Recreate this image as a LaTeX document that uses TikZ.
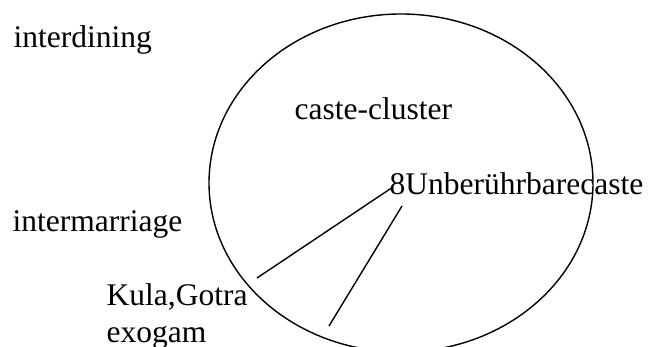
\documentclass[tikz,border=0pt]{standalone}
\usepackage{fontspec}
\setmainfont{Liberation Serif}
\usepackage{amsmath, amssymb, tikz}

\begin{document}
\begin{tikzpicture}
            [x=1pt, y=-1pt, semithick, line width=1.4pt,
             lbl/.style={anchor=base west, inner sep=0pt, font=\fontsize{31.5}{34}\selectfont}]
            \useasboundingbox (0, 0) rectangle (650, 347);
            \clip (0, 0) rectangle (650, 347);
            \draw (401, 183) ellipse [x radius=192, y radius=169];
            \node[lbl] (dining) at (13, 48) {interdining};
            \node[lbl] (marriage) at (12, 232) {intermarriage};
            \node[lbl] (cluster) at (294, 120) {caste-cluster};
            \node[lbl] (unber) at (389, 195) {8Unberührbarecaste};
            \node[lbl] (kula) at (106, 305) {Kula,Gotra};
            \node[lbl] (exogam) at (106, 342) {exogam};
            \coordinate (e1) at (257, 278);
            \coordinate (e2) at (329, 326);
            \coordinate (u1) at (393, 187);
            \coordinate (u2) at (402, 206);

            \path [draw] (u1) edge node {} (e1);
            \path [draw] (u2) edge node {} (e2);
        \end{tikzpicture}
\end{document}
